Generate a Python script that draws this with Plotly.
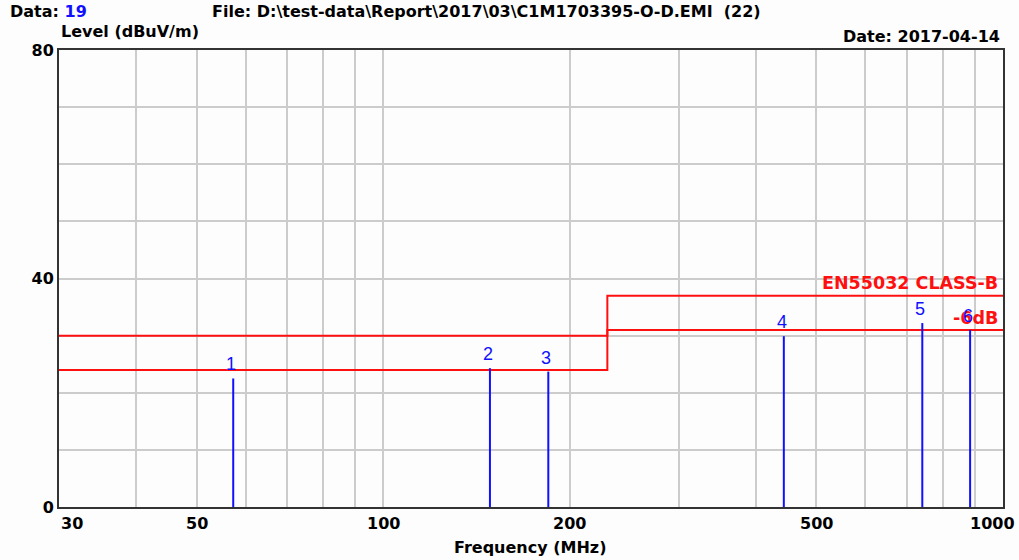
import math
import plotly.graph_objects as go

# limit lines (EN55032 class B) and -6 dB margin line
limit_freq = [30, 230, 1000]
limit_level = [30, 37, 37]
margin_level = [24, 31, 31]

# measured peaks
peak_no = ["1", "2", "3", "4", "5", "6"]
peak_freq = [57.3, 148.7, 184.7, 443, 741, 885]
peak_level = [22.5, 24.3, 23.7, 29.9, 32.2, 31.0]

x_gridvals = [30, 40, 50, 60, 70, 80, 90, 100, 200, 300, 400, 500, 600, 700, 800, 900, 1000]
x_labelvals = [30, 50, 100, 200, 500, 1000]
x_labeltext = ["30", "50", "100", "200", "500", "1000"]
y_tickvals = [0, 10, 20, 30, 40, 50, 60, 70, 80]
y_ticktext = ["0", "", "", "", "40", "", "", "", "80"]

FONT = "DejaVu Sans, sans-serif"
RED = "#ff1010"
BLUE = "#1010ff"

fig = go.Figure()

fig.add_trace(go.Scatter(
    x=limit_freq, y=limit_level, mode="lines", line_shape="hv",
    line=dict(color=RED, width=2), showlegend=False, hoverinfo="skip"
))
fig.add_trace(go.Scatter(
    x=limit_freq, y=margin_level, mode="lines", line_shape="hv",
    line=dict(color=RED, width=2), showlegend=False, hoverinfo="skip"
))

# vertical peak lines, separated by None
vx, vy = [], []
for f, lv in zip(peak_freq, peak_level):
    vx += [f, f, None]
    vy += [0, lv, None]
fig.add_trace(go.Scatter(
    x=vx, y=vy, mode="lines", line=dict(color=BLUE, width=2),
    showlegend=False, hoverinfo="skip"
))

fig.update_xaxes(
    type="log", range=[1.4771, 3.0],
    tickvals=x_gridvals, showticklabels=False, ticks="",
    showgrid=True, gridcolor="#cccccc", gridwidth=2,
    showline=True, linecolor="#333333", linewidth=2, mirror=True,
    zeroline=False,
)
fig.update_yaxes(
    range=[0, 80], tickvals=y_tickvals, ticktext=y_ticktext, ticks="",
    showgrid=True, gridcolor="#cccccc", gridwidth=2,
    showline=True, linecolor="#333333", linewidth=2, mirror=True,
    zeroline=False,
    tickfont=dict(family=FONT, size=16, color="black", weight="bold"),
)

hdr = dict(family=FONT, size=16, color="black", weight="bold")
red_txt = dict(family=FONT, size=17.5, color=RED, weight="bold")

# header / legend texts placed in pixels, converted to paper coords below
pix_notes = [
    dict(x=8, y=12, text="Data: <span style='color:#1010ff'>19</span>", xanchor="left", font=hdr),
    dict(x=210, y=12, text="File: D:\\test-data\\Report\\2017\\03\\C1M1703395-O-D.EMI  (22)",
         xanchor="left", font=hdr),
    dict(x=59, y=32, text="Level (dBuV/m)", xanchor="left", font=hdr),
    dict(x=1002, y=36, text="Date: 2017-04-14", xanchor="right", font=hdr),
    dict(x=530, y=547, text="Frequency (MHz)", xanchor="center", font=hdr),
    dict(x=1000, y=283, text="EN55032 CLASS-B", xanchor="right", font=red_txt),
    dict(x=1000, y=318, text="-6dB", xanchor="right", font=red_txt),
]
pw, ph = 1019 - 59 - 16, 560 - 50 - 53
for a in pix_notes:
    fig.add_annotation(
        x=(a["x"] - 59) / pw, y=(507 - a["y"]) / ph, xref="paper", yref="paper",
        text=a["text"], xanchor=a["xanchor"], yanchor="middle",
        showarrow=False, font=a["font"],
    )

# x tick labels (ends kept inside the picture like the reference)
for i, (v, t) in enumerate(zip(x_labelvals, x_labeltext)):
    anchor = "left" if i == 0 else ("right" if i == len(x_labelvals) - 1 else "center")
    shift = 14 if anchor == "right" else 0
    fig.add_annotation(
        x=math.log10(v), y=0, xref="x", yref="paper",
        text=t, xanchor=anchor, yanchor="top", yshift=-5, xshift=shift,
        showarrow=False, font=dict(family=FONT, size=16, color="black", weight="bold"),
    )

# peak numbers above each line
for n, f, lv in zip(peak_no, peak_freq, peak_level):
    fig.add_annotation(
        x=math.log10(f), y=lv, xref="x", yref="y",
        text=n, xanchor="center", yanchor="bottom", yshift=2, xshift=-2,
        showarrow=False, font=dict(family="Arial, Liberation Sans, sans-serif", size=18, color=BLUE),
    )

fig.update_layout(
    width=1019, height=560,
    margin=dict(l=59, r=16, t=50, b=53),
    paper_bgcolor="#fdfdfd", plot_bgcolor="#fdfdfd",
    font=dict(family=FONT),
)

fig.write_html("out.html", config={"displayModeBar": False},
               post_script="document.body.style.margin='0';")
